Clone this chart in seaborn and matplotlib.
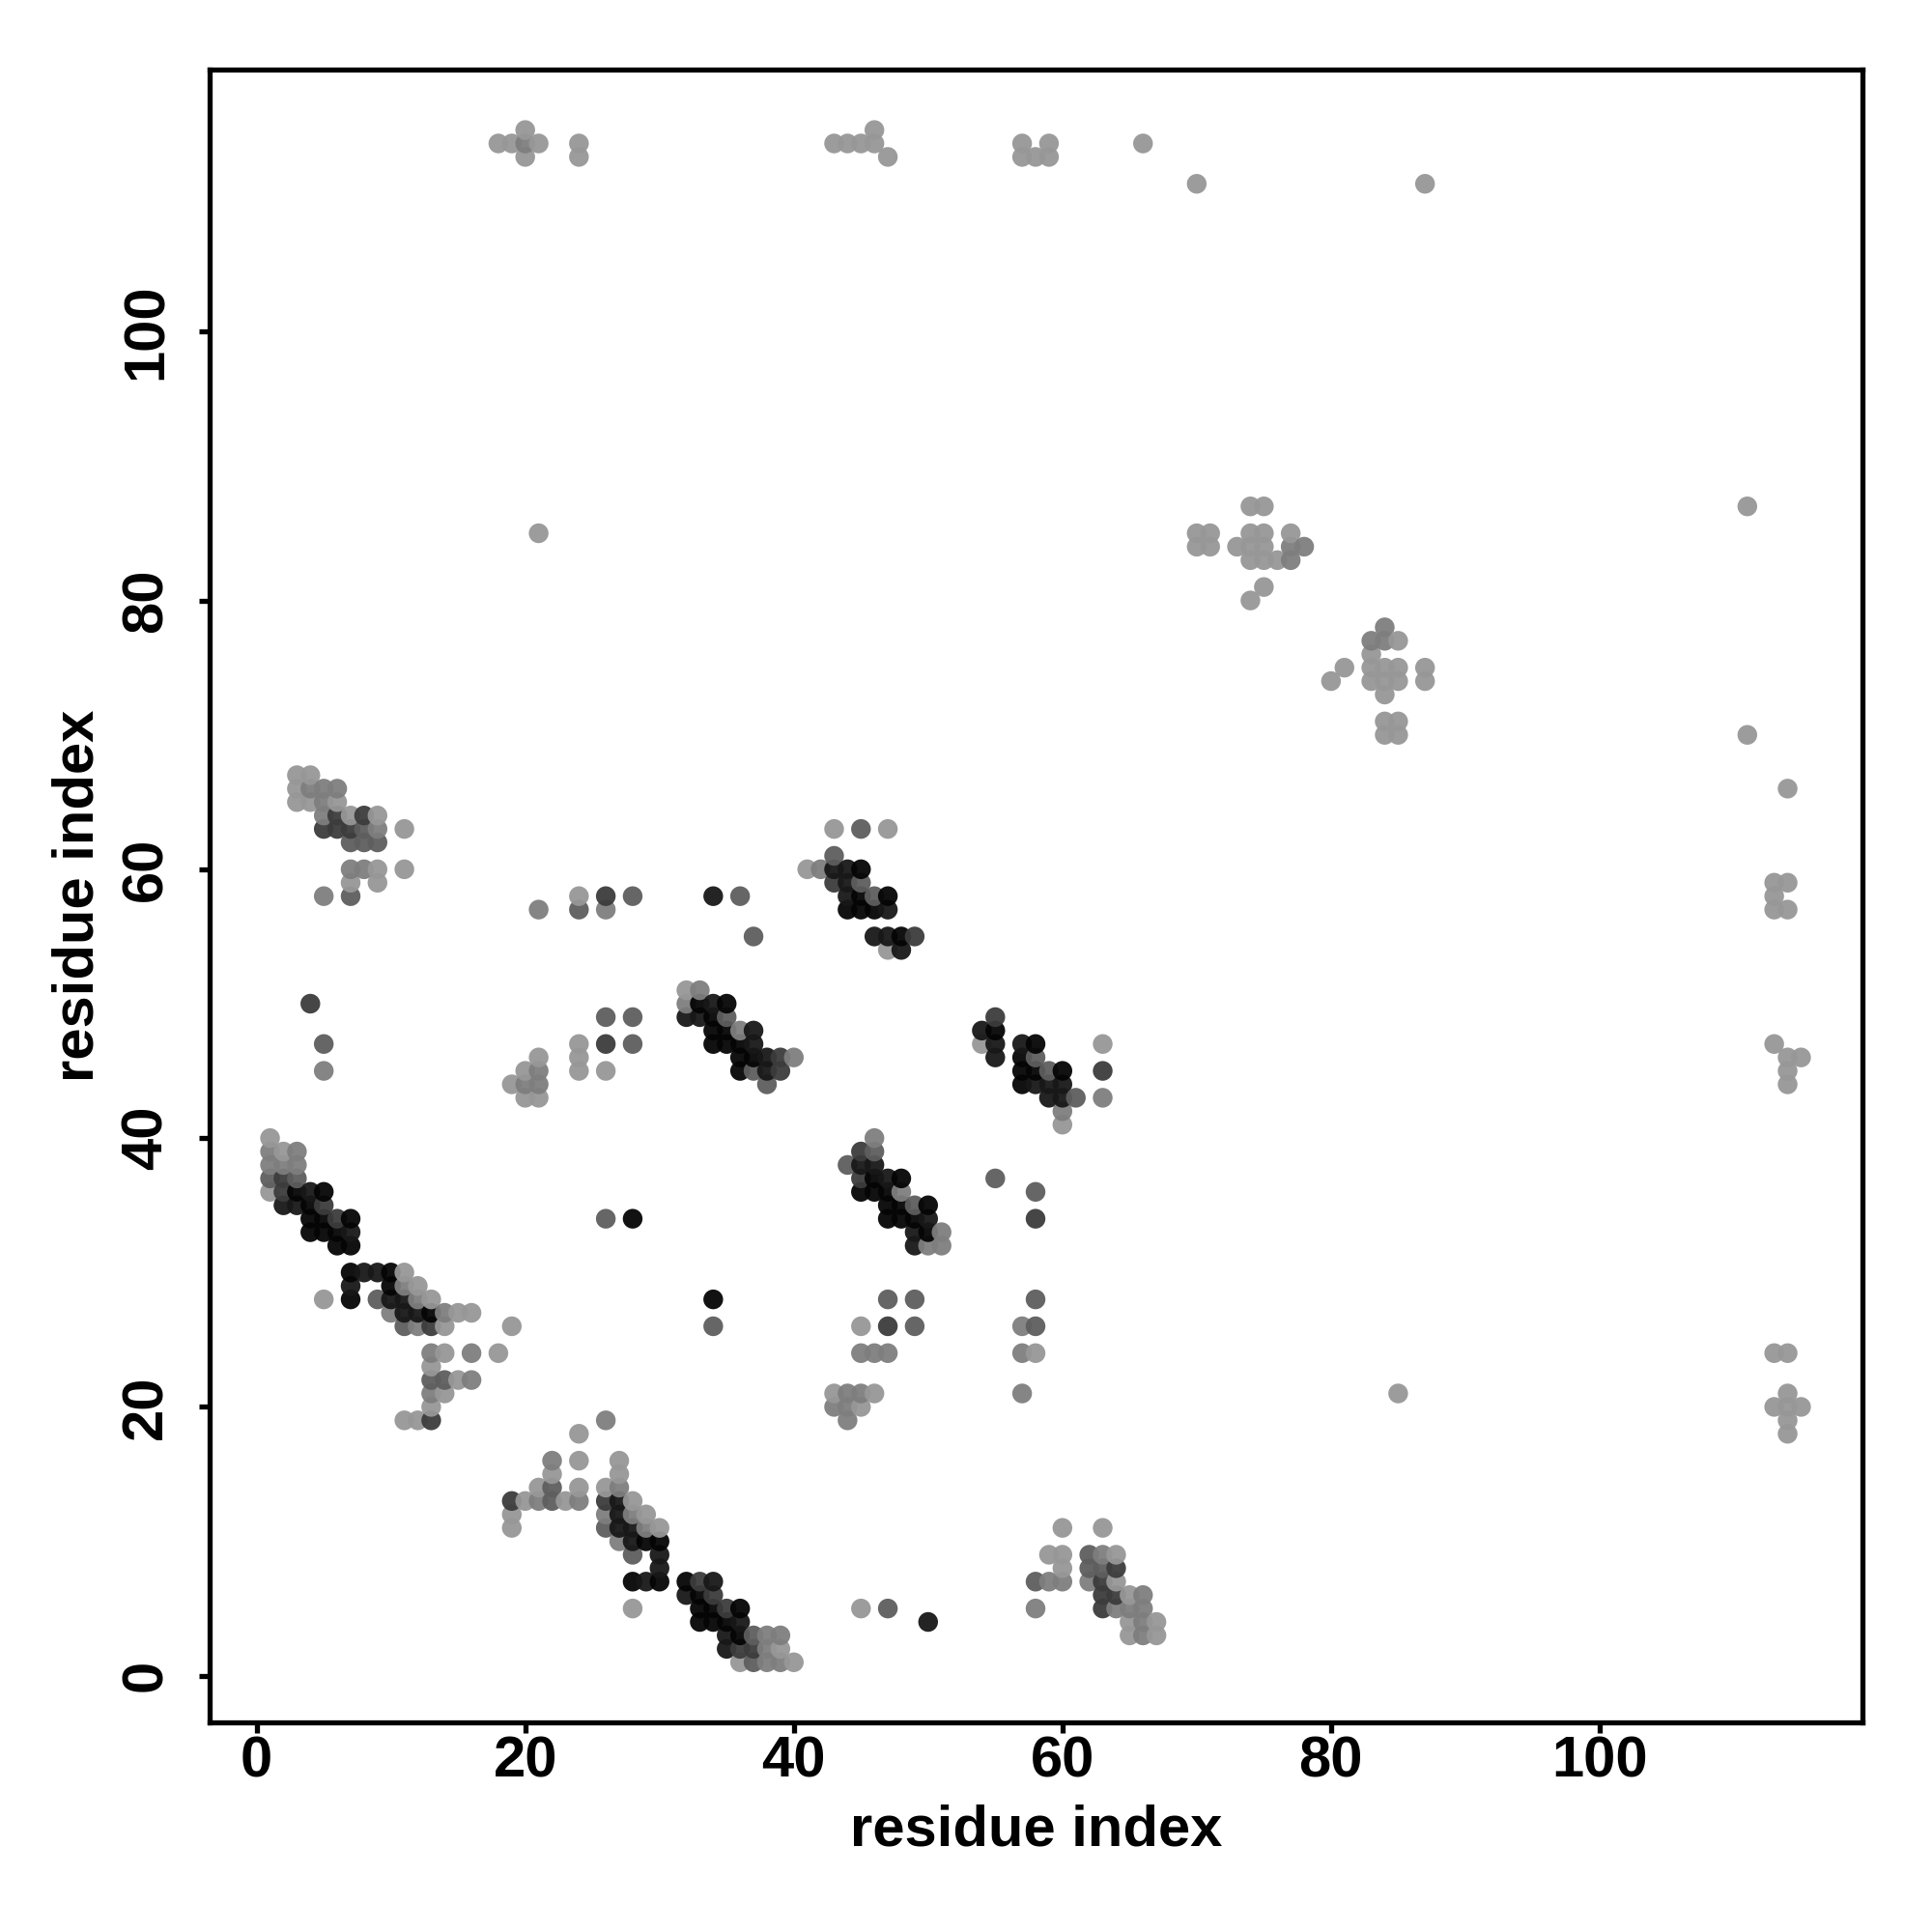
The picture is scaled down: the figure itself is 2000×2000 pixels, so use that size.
import pandas as pd
import seaborn as sns
import matplotlib.pyplot as plt

# contact pairs (residue i, residue j) grouped by how dark the dot is
shade_6 = [(3,36),(5,36),(4,35),(4,34),(5,34),(7,34),(4,33),(5,33),(6,33),(6,32),(7,32),
           (7,30),(10,30),(10,29),(7,28),(13,27),
           (29,10),(30,10),(28,7),(30,7),(32,7),(33,6),(33,5),(34,5),(36,5),(33,4),(34,4),(35,4),(36,3),
           (33,50),(35,50),(34,49),(34,48),(35,48),(34,47),(35,47),(36,47),(36,46),(37,46),(36,45),
           (48,37),(45,36),(46,36),(47,36),(46,37),(47,35),(48,35),(50,35),(47,34),(48,34),(49,34),(50,33),
           (34,28),(28,34),(45,60),(45,58),(47,58),(44,57),(45,57),(46,57),(48,55),
           (55,48),(58,47),(57,46),(57,45),(58,45),(60,45),(57,44)]
shade_5 = [(4,36),(2,35),(3,35),(7,33),(7,29),(8,30),(9,30),(10,28),(11,28),(11,27),(12,27),
           (27,13),(27,12),(27,11),(28,11),(28,10),(30,9),(30,8),(29,7),(34,7),(32,6),(36,4),(35,3),(35,2),
           (32,49),(33,49),(34,50),(37,48),(37,47),(38,46),(38,45),
           (45,38),(46,38),(47,37),(50,34),(49,33),(49,32),
           (43,60),(44,60),(44,59),(44,58),(47,57),(46,55),(47,55),(48,54),(34,58),
           (54,48),(55,47),(55,46),(57,47),(58,44),(59,44),(60,44),(59,43),(60,43),(50,4)]
shade_4 = [(2,37),(2,36),(6,34),(5,35),(13,26),(13,19),(19,13),(26,13),(33,7),(34,6),(35,5),(37,2),(36,2),
           (39,46),(39,45),(45,39),(45,37),(49,55),(43,59),(55,49),(63,45),
           (26,47),(47,26),(58,34),(5,63),(6,63),(7,63),(6,64),(8,64),(26,58),(4,50),
           (64,8),(63,7),(63,6),(64,6),(63,5)]
shade_3 = [(1,37),(3,37),(9,28),(11,26),(13,22),(14,22),(22,14),(22,13),(26,11),(28,9),(37,3),(37,1),
           (35,49),(37,45),(38,44),(28,49),(28,47),(26,49),(46,39),(44,38),(49,35),(47,28),(49,28),(49,26),
           (43,61),(45,59),(46,58),(45,63),(58,46),(59,45),(61,43),(55,37),(58,36),(58,28),(58,26),(26,34),(34,26),
           (8,63),(7,62),(8,62),(9,62),(7,58),(24,57),(28,58),(36,58),(37,55),(5,47),(47,5),
           (62,9),(62,8),(63,8),(58,7)]
shade_2 = [(1,39),(3,39),(1,38),(2,38),(3,38),(11,29),(12,28),(10,27),(14,27),(12,26),(13,24),(16,24),(13,21),(16,22),
           (26,19),(22,16),(27,14),(21,13),(24,13),(26,12),(28,12),(29,11),(27,10),(38,3),(39,3),(38,2),(38,1),(39,1),
           (32,50),(33,51),(36,48),(40,46),(46,40),(48,36),(51,33),(50,32),(51,32),
           (42,60),(60,42),(63,43),(20,44),(21,45),(21,44),
           (44,20),(44,21),(45,21),(44,19),(43,20),(46,24),(47,24),(45,24),(57,26),(57,24),(57,21),
           (4,66),(5,66),(6,66),(5,65),(5,64),(9,63),(7,60),(8,60),(5,58),(21,57),(26,57),(5,45),
           (63,9),(59,7),(60,7),(62,7),(66,6),(58,5),(64,5),(65,5),(66,5),(66,4),(66,3),
           (77,84),(78,84),(77,83),(83,77),(84,78),(84,77),(20,114)]
shade_1 = [(1,40),(2,39),(1,36),(11,30),(12,29),(5,28),(13,28),(15,27),(16,27),(14,26),(19,26),(14,24),(18,24),(13,23),
           (15,22),(14,21),(13,20),(11,19),(12,19),
           (24,18),(24,16),(27,16),(22,15),(27,15),(21,14),(24,14),(26,14),(20,13),(23,13),(28,13),(19,12),(29,12),(19,11),(30,11),
           (28,5),(36,1),(40,1),(39,2),(45,5),
           (32,51),(54,47),(47,54),(41,60),(43,63),(47,63),(60,41),(63,47),
           (19,44),(20,45),(20,43),(21,43),(21,46),(24,47),(24,46),(24,45),(26,45),
           (43,21),(46,21),(45,20),(45,26),(58,24),
           (3,67),(4,67),(3,66),(3,65),(4,65),(6,65),(7,64),(9,64),(11,63),(9,60),(11,60),(7,59),(9,59),(24,58),
           (60,11),(63,11),(59,9),(60,9),(64,9),(60,8),(64,7),(65,6),(65,4),(67,4),(65,3),(67,3),
           (70,85),(71,85),(70,84),(71,84),(73,84),(74,87),(75,87),(74,85),(75,85),(77,85),(74,84),(75,84),
           (74,83),(75,83),(76,83),(75,81),(74,80),
           (85,77),(83,76),(81,75),(83,75),(84,75),(85,75),(87,75),(80,74),(83,74),(84,74),(85,74),(87,74),(84,73),
           (84,71),(85,71),(84,70),(85,70),
           (21,85),(111,87),(111,70),(114,66),(85,21),(70,111),(87,111),(66,114),
           (18,114),(19,114),(20,115),(21,114),(20,113),(24,114),(24,113),
           (43,114),(44,114),(45,114),(46,115),(46,114),(47,113),
           (57,114),(57,113),(58,113),(59,114),(59,113),
           (113,59),(114,59),(113,58),(113,57),(114,57),(113,47),(114,46),(115,46),(114,45),(114,44),
           (113,24),(114,24),(114,21),(113,20),(114,20),(115,20),(114,19),(114,18)]

shade_colours = {6: '#050505', 5: '#181818', 4: '#3c3c3c', 3: '#5e5e5e', 2: '#7e7e7e', 1: '#979797'}

rows = []
for level, pairs in [(6, shade_6), (5, shade_5), (4, shade_4), (3, shade_3), (2, shade_2), (1, shade_1)]:
    for i, j in pairs:
        rows.append({'i': i, 'j': j, 'level': level})
# dots stack in residue order
df = pd.DataFrame(rows).sort_values(['i', 'j'])

sns.set_theme(style="ticks")
plt.rcParams['font.family'] = ['Liberation Sans', 'DejaVu Sans']
plt.rcParams['font.weight'] = 'bold'

fig = plt.figure(figsize=(10, 10), dpi=200)
ax = fig.add_axes([0.1085, 0.1083, 0.8557, 0.8557])

sns.scatterplot(data=df, x='i', y='j', hue='level', palette=shade_colours,
                s=54, linewidth=0, alpha=0.95, legend=False, ax=ax)

ax.set_xlim(-3.5, 119.6)
ax.set_ylim(-3.5, 119.5)
ax.set_xticks([0, 20, 40, 60, 80, 100])
ax.set_yticks([0, 20, 40, 60, 80, 100])
ax.tick_params(axis='x', labelsize=21.5, length=4, width=1.9, color='black', labelcolor='black', pad=0.6)
ax.tick_params(axis='y', labelsize=21.5, length=4, width=1.9, color='black', labelcolor='black', pad=9.5)
plt.setp(ax.get_yticklabels(), rotation=90, va='center')
ax.set_xlabel('residue index', fontsize=21.5, fontweight='bold', color='black', labelpad=5.8)
ax.set_ylabel('residue index', fontsize=21.5, fontweight='bold', color='black', labelpad=5.6)
for side in ax.spines.values():
    side.set_linewidth(1.9)
    side.set_color('black')

fig.savefig('out.png', dpi=200)
